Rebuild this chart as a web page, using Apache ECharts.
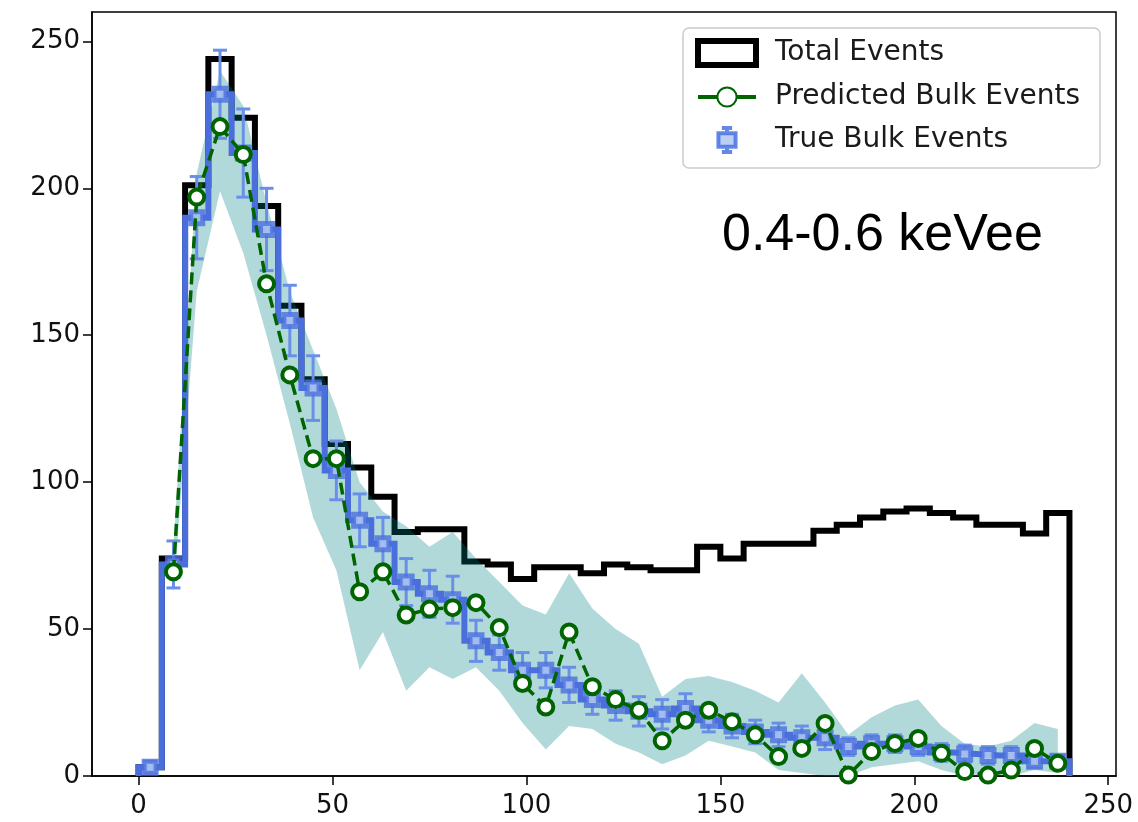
<!DOCTYPE html>
<html><head><meta charset="utf-8">
<script src="https://cdn.jsdelivr.net/npm/echarts@6/dist/echarts.min.js"></script>
<style>html,body{margin:0;padding:0;background:#fff}#c{width:1138px;height:822px}</style>
</head><body><div id="c"></div>
<script>
// ---- data ----
const binEdges = [0,6,12,18,24,30,36,42,48,54,60,66,72,78,84,90,96,102,108,114,120,126,132,138,144,150,156,162,168,174,180,186,192,198,204,210,216,222,228,234,240];
const totalEvents = [3,74,201,244,224,194,160,135,113,105,95,83,84,84,73,72,67,71,71,69,72,71,70,70,78,74,79,79,79,83.5,85.5,88,90,91,89.5,88,85.5,85.5,82.5,89.5];
const trueBulk = [3,72,190,232,212,186,155,132,104,87,79,66,62,60,46,42,36,36,31,26,24,22,21,23,19,17,15,14,13,13,10,11,11,10,8,7.5,7,7,5,5];
const trueErr = [2,8,14,15,15,14,12,11,10,9,9,8,8,8,7,6,6,6,6,5,5,5,5,5,4,4,4,4,4,4,3,3,3,3,3,3,3,3,2,2];
const predX = [9,15,21,27,33,39,45,51,57,63,69,75,81,87,93,99,105,111,117,123,129,135,141,147,153,159,165,171,177,183,189,195,201,207,213,219,225,231,237];
const predBulk = [69.5,197,221,211.5,167.5,136.5,108,108,62.7,69.5,54.8,56.8,57.3,59,50.5,31.5,23.5,49,30.4,26,22.4,12,19,22.4,18.5,14,6.6,9.4,17.9,0.3,8.3,11.1,12.8,7.7,1.5,0.3,2,9.4,4.3];
const bandLower = [62,165,199,178,150,120,88,70,36,49,29,37,33,37,29,18,9,17,16,11,8,4,7,12,10,8,2,1,0,0,3,4,5,2,0,0,0,2,1];
const bandUpper = [78,205,240,228,195,165,145,125,100,90,85,78,83,74,66,58,55,69,57,50,45,27,33,34,32,29,25,35,25,14,20,24,26,17,11,10,12,18,16];
const xTicks = [0,50,100,150,200,250];
const yTicks = [0,50,100,150,200,250];
const labelText = '0.4-0.6 keVee';

// ---- derived ----
const centers = trueBulk.map((_, i) => (binEdges[i] + binEdges[i + 1]) / 2);
function stepPoints(vals) {
  const pts = [[binEdges[0], 0]];
  vals.forEach((v, i) => { pts.push([binEdges[i], v]); pts.push([binEdges[i + 1], v]); });
  pts.push([binEdges[binEdges.length - 1], 0]);
  return pts;
}
const bandData = predX.map((x, i) => [x, bandLower[i], bandUpper[i]]);
const errData = centers.map((c, i) => [c, trueBulk[i], trueErr[i]]);

const chart = echarts.init(document.getElementById('c'), null, {renderer: 'canvas'});
const FONT = 'DejaVu Sans';
chart.setOption({
  animation: false,
  backgroundColor: '#fff',
  grid: {left: 92, right: 22, top: 12, bottom: 46, show: true, borderColor: '#000', borderWidth: 1.5, backgroundColor: 'transparent'},
  xAxis: {
    type: 'value', min: -12, max: 252,
    axisLine: {onZero: false, lineStyle: {color: '#000', width: 1.5}},
    axisTick: {show: true, length: 9, lineStyle: {color: '#000', width: 1.5}, customValues: xTicks},
    axisLabel: {customValues: xTicks, color: '#111', fontFamily: FONT, fontSize: 26, margin: 17},
    splitLine: {show: false}
  },
  yAxis: {
    type: 'value', min: 0, max: 260,
    axisLine: {show: true, onZero: false, lineStyle: {color: '#000', width: 1.5}},
    axisTick: {show: true, length: 9, lineStyle: {color: '#000', width: 1.5}, customValues: yTicks},
    axisLabel: {customValues: yTicks, color: '#111', fontFamily: FONT, fontSize: 26, margin: 12},
    splitLine: {show: false}
  },
  legend: {
    left: 683, top: 28, orient: 'vertical',
    padding: [10, 20, 14, 12],
    itemWidth: 58, itemHeight: 24, itemGap: 15,
    borderColor: '#cccccc', borderWidth: 1.5, borderRadius: 6,
    backgroundColor: 'rgba(255,255,255,0.85)',
    textStyle: {fontFamily: FONT, fontSize: 28, lineHeight: 28, color: '#1a1a1a', padding: [0, 0, 0, 14]},
    data: [
      {name: 'Total Events', icon: 'rect', itemStyle: {color: '#fff', borderColor: '#000', borderWidth: 6}},
      {name: 'Predicted Bulk Events', lineStyle: {type: 'solid', width: 4, color: '#006400'}},
      {name: 'True Bulk Events', icon: 'path://M2,0 L8,0 M5,0 L5,3 M0,3 L10,3 L10,11 L0,11 Z M5,11 L5,14 M2,14 L8,14', itemStyle: {color: '#a9c3f0', borderColor: '#4169e1', borderWidth: 4}}
    ]
  },
  graphic: [{
    type: 'text', left: 722, top: 210, z: 100,
    style: {text: labelText, font: '52px "Liberation Sans"', fill: '#000'}
  }],
  series: [
    {
      name: 'Total Events', type: 'line', data: stepPoints(totalEvents), showSymbol: false, symbol: 'none',
      lineStyle: {color: '#000', width: 6, join: 'miter'}, itemStyle: {color: '#000'}, z: 2
    },
    {
      name: 'band', type: 'custom', data: bandData, z: 3,
      encode: {x: 0, y: [1, 2]},
      renderItem: function (params, api) {
        if (params.dataIndex !== 0) return null;
        const pts = [];
        for (let i = 0; i < predX.length; i++) pts.push(api.coord([predX[i], bandUpper[i]]));
        for (let i = predX.length - 1; i >= 0; i--) pts.push(api.coord([predX[i], bandLower[i]]));
        return {type: 'polygon', shape: {points: pts}, style: {fill: 'rgba(0,128,128,0.3)', stroke: null}};
      },
      silent: true
    },
    {
      name: 'trueStep', type: 'line', data: stepPoints(trueBulk), showSymbol: false, symbol: 'none',
      lineStyle: {color: '#4a6fdc', width: 6, join: 'miter'}, z: 4
    },
    {
      name: 'trueErr', type: 'custom', data: errData, z: 5,
      encode: {x: 0, y: 1},
      renderItem: function (params, api) {
        const x = api.value(0), y = api.value(1), e = api.value(2);
        const top = api.coord([x, y + e]);
        const bot = api.coord([x, y - e]);
        const w = 7;
        const st = {stroke: '#6a8fe8', lineWidth: 3};
        return {type: 'group', children: [
          {type: 'line', shape: {x1: top[0], y1: top[1], x2: bot[0], y2: bot[1]}, style: st},
          {type: 'line', shape: {x1: top[0] - w, y1: top[1], x2: top[0] + w, y2: top[1]}, style: st},
          {type: 'line', shape: {x1: bot[0] - w, y1: bot[1], x2: bot[0] + w, y2: bot[1]}, style: st}
        ]};
      }
    },
    {
      name: 'True Bulk Events', type: 'scatter', data: centers.map((c, i) => [c, trueBulk[i]]),
      symbol: 'rect', symbolSize: 12, z: 6,
      itemStyle: {color: '#b4cbf2', borderColor: '#4a6fdc', borderWidth: 5}
    },
    {
      name: 'Predicted Bulk Events', type: 'line', data: predX.map((x, i) => [x, predBulk[i]]),
      symbol: 'circle', symbolSize: 15, showSymbol: true, z: 7,
      lineStyle: {color: '#006400', width: 3.5, type: [12, 6]},
      itemStyle: {color: '#fff', borderColor: '#006400', borderWidth: 4}
    }
  ]
});
</script>
</body></html>
